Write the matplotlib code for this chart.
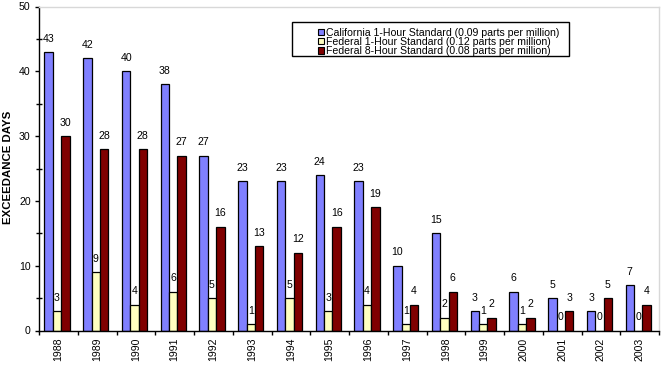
import matplotlib
matplotlib.use("Agg")
import matplotlib.pyplot as plt
import numpy as np
from matplotlib.patches import Rectangle, Patch
from matplotlib.ticker import MultipleLocator

plt.rcParams['font.family'] = ['Liberation Sans', 'DejaVu Sans']

years = ['1988', '1989', '1990', '1991', '1992', '1993', '1994', '1995',
         '1996', '1997', '1998', '1999', '2000', '2001', '2002', '2003']
california_1hr = [43, 42, 40, 38, 27, 23, 23, 24, 23, 10, 15, 3, 6, 5, 3, 7]
federal_1hr = [3, 9, 4, 6, 5, 1, 5, 3, 4, 1, 2, 1, 1, 0, 0, 0]
federal_8hr = [30, 28, 28, 27, 16, 13, 12, 16, 19, 4, 6, 2, 2, 3, 5, 4]
series_names = ['California 1-Hour Standard (0.09 parts per million)',
                'Federal 1-Hour Standard (0.12 parts per million)',
                'Federal 8-Hour Standard (0.08 parts per million)']
colors = ['#8080FF', '#FFFFC0', '#800000']

W, H = 662, 369
fig = plt.figure(figsize=(W / 100, H / 100), dpi=100)
ax = fig.add_axes([39 / W, 1 - 330.5 / H, 620 / W, 324 / H])

x = np.arange(len(years))
w = 0.216
offsets = [-w, 0, w]
fs = 7.6
for vals, off, c in zip([california_1hr, federal_1hr, federal_8hr], offsets, colors):
    xs = x + off - 0.036
    ax.bar(xs, vals, width=w, color=c, edgecolor='black', linewidth=0.9)
    for xi, v in zip(xs, vals):
        ax.annotate(str(v), (xi, v), xytext=(0, 6), textcoords='offset points',
                    ha='center', va='bottom', fontsize=fs)

ax.set_xlim(-0.5, len(years) - 0.5)
ax.set_ylim(0, 50)
ax.yaxis.set_major_locator(MultipleLocator(10))
ax.yaxis.set_minor_locator(MultipleLocator(5))
ax.tick_params(axis='y', which='major', direction='out', length=3, width=1, labelsize=fs, pad=3)
ax.tick_params(axis='y', which='minor', direction='inout', length=4, width=1)
ax.set_xticks(np.arange(len(years) + 1) - 0.5, minor=False)
ax.set_xticklabels([''] * (len(years) + 1))
ax.set_xticks(x, minor=True)
ax.set_xticklabels(years, minor=True, rotation=90, fontsize=fs)
ax.tick_params(axis='x', which='major', direction='out', length=3, width=1)
ax.tick_params(axis='x', which='minor', length=0, pad=5)

for s in ['left', 'bottom']:
    ax.spines[s].set_color('black')
    ax.spines[s].set_linewidth(1)
for s in ['top', 'right']:
    ax.spines[s].set_color('#d8d8d8')
    ax.spines[s].set_linewidth(1)

fig.text(8 / W, 1 - 167 / H, 'EXCEEDANCE DAYS', rotation=90, ha='center', va='center',
         fontsize=8.2, fontweight='bold')

# legend
handles = [Patch(facecolor=c, edgecolor='black', linewidth=0.8) for c in colors]
fig.patches.append(Rectangle((292 / W, 1 - 55.5 / H), 277 / W, 33.5 / H,
                             transform=fig.transFigure, facecolor='white',
                             edgecolor='black', linewidth=1, zorder=5))
leg = fig.legend(handles, series_names, loc='upper left',
                 bbox_to_anchor=(311 / W, 1 - 21 / H), frameon=False,
                 fontsize=fs, handlelength=0.55, handleheight=0.55,
                 handletextpad=0.25, labelspacing=-0.08, borderpad=0.15)
leg.set_zorder(6)

fig.savefig('out.png', dpi=100)
